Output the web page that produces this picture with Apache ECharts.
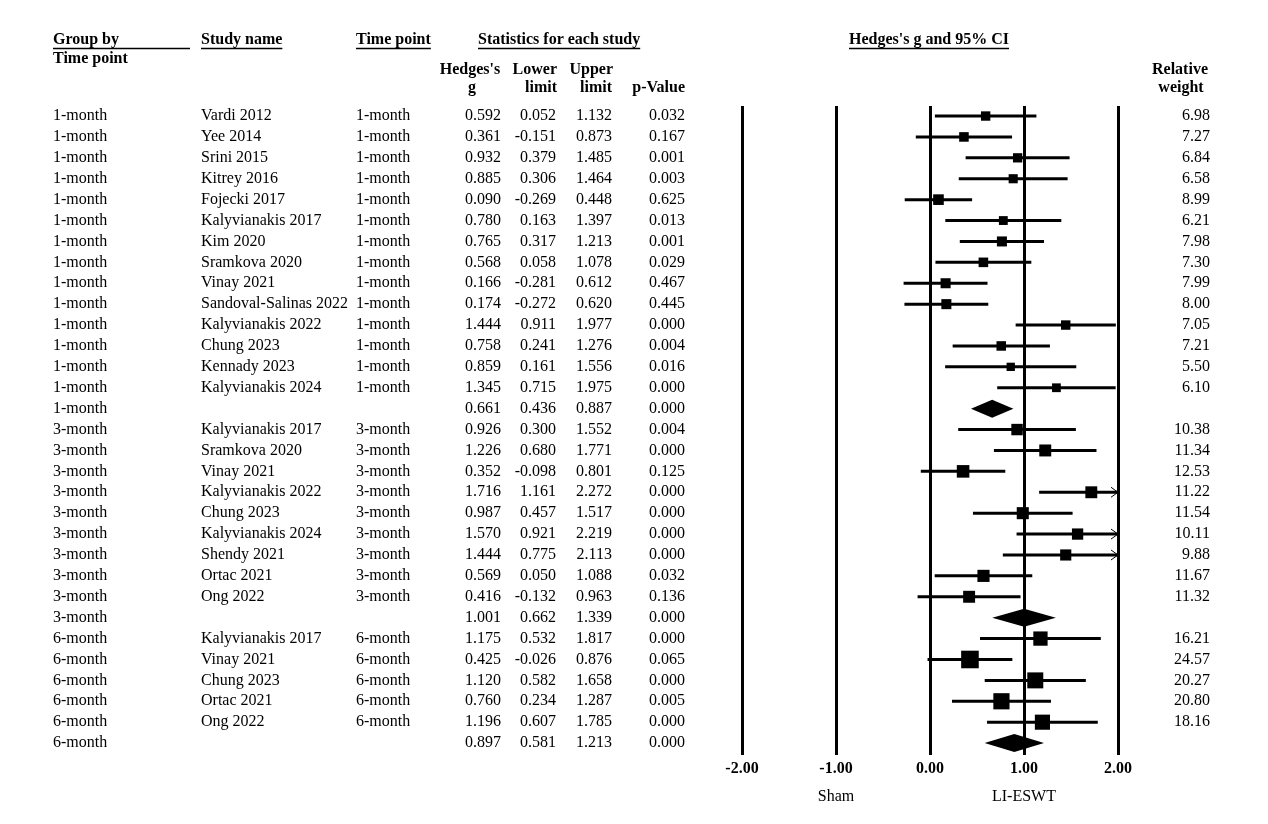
<!DOCTYPE html>
<html>
<head>
<meta charset="utf-8">
<title>Hedges's g forest plot</title>
<script src="https://cdn.jsdelivr.net/npm/echarts@6.0.0/dist/echarts.min.js"></script>
<style>
html,body{margin:0;padding:0;background:#fff;}
#chart_container{width:1268px;height:824px;}
</style>
</head>
<body>
<div id="chart_container"></div>
<script>
var FONT = '"Liberation Serif", "Times New Roman", serif';

// table rows (empty study name = subgroup summary)
var timeGroup = [
	'1-month','1-month','1-month','1-month','1-month','1-month','1-month','1-month','1-month','1-month','1-month','1-month','1-month','1-month','1-month',
	'3-month','3-month','3-month','3-month','3-month','3-month','3-month','3-month','3-month','3-month',
	'6-month','6-month','6-month','6-month','6-month','6-month'
];
var studyNames = [
	'Vardi 2012','Yee 2014','Srini 2015','Kitrey 2016','Fojecki 2017','Kalyvianakis 2017','Kim 2020','Sramkova 2020','Vinay 2021','Sandoval-Salinas 2022','Kalyvianakis 2022','Chung 2023','Kennady 2023','Kalyvianakis 2024','',
	'Kalyvianakis 2017','Sramkova 2020','Vinay 2021','Kalyvianakis 2022','Chung 2023','Kalyvianakis 2024','Shendy 2021','Ortac 2021','Ong 2022','',
	'Kalyvianakis 2017','Vinay 2021','Chung 2023','Ortac 2021','Ong 2022',''
];
var timePoint = [
	'1-month','1-month','1-month','1-month','1-month','1-month','1-month','1-month','1-month','1-month','1-month','1-month','1-month','1-month','',
	'3-month','3-month','3-month','3-month','3-month','3-month','3-month','3-month','3-month','',
	'6-month','6-month','6-month','6-month','6-month',''
];
var hedgesG = [
	0.592,0.361,0.932,0.885,0.090,0.780,0.765,0.568,0.166,0.174,1.444,0.758,0.859,1.345,0.661,
	0.926,1.226,0.352,1.716,0.987,1.570,1.444,0.569,0.416,1.001,
	1.175,0.425,1.120,0.760,1.196,0.897
];
var lowerLimit = [
	0.052,-0.151,0.379,0.306,-0.269,0.163,0.317,0.058,-0.281,-0.272,0.911,0.241,0.161,0.715,0.436,
	0.300,0.680,-0.098,1.161,0.457,0.921,0.775,0.050,-0.132,0.662,
	0.532,-0.026,0.582,0.234,0.607,0.581
];
var upperLimit = [
	1.132,0.873,1.485,1.464,0.448,1.397,1.213,1.078,0.612,0.620,1.977,1.276,1.556,1.975,0.887,
	1.552,1.771,0.801,2.272,1.517,2.219,2.113,1.088,0.963,1.339,
	1.817,0.876,1.658,1.287,1.785,1.213
];
var pValue = [
	0.032,0.167,0.001,0.003,0.625,0.013,0.001,0.029,0.467,0.445,0.000,0.004,0.016,0.000,0.000,
	0.004,0.000,0.125,0.000,0.000,0.000,0.000,0.032,0.136,0.000,
	0.000,0.065,0.000,0.005,0.000,0.000
];
var relWeight = [
	6.98,7.27,6.84,6.58,8.99,6.21,7.98,7.30,7.99,8.00,7.05,7.21,5.50,6.10,null,
	10.38,11.34,12.53,11.22,11.54,10.11,9.88,11.67,11.32,null,
	16.21,24.57,20.27,20.80,18.16,null
];

var xMin = -2, xMax = 2;
var sideLabels = ['Sham', 'LI-ESWT'];
var sideAt = [-1, 1];

function font(size, bold) {
	return (bold ? 'bold ' : '') + size + 'px ' + FONT;
}
var measureCtx = document.createElement('canvas').getContext('2d');
function textWidth(t, bold) {
	measureCtx.font = font(16, bold);
	return measureCtx.measureText(t).width;
}
function txtStyle(text, x, y, align, bold) {
	return {
		text: text, x: x, y: y, font: font(16, bold), fill: '#000',
		align: align, verticalAlign: 'middle',
		textAlign: align, textVerticalAlign: 'middle'
	};
}

// split rows into studies and subgroup summaries
var studyData = [], summaryData = [], rowData = [];
for (var i = 0; i < hedgesG.length; i++) {
	rowData.push([i]);
	if (studyNames[i] === '') {
		summaryData.push([i, hedgesG[i], lowerLimit[i], upperLimit[i]]);
	} else {
		studyData.push([i, hedgesG[i], lowerLimit[i], upperLimit[i], relWeight[i]]);
	}
}

function renderStudy(params, api) {
	var y = api.coord([0, api.value(0)])[1];
	var g = api.value(1), lo = api.value(2), hi = api.value(3), w = api.value(4);
	var xl = api.coord([Math.max(lo, xMin), 0])[0];
	var xh = api.coord([Math.min(hi, xMax), 0])[0];
	var xg = api.coord([g, 0])[0];
	var s = 3.55 * Math.sqrt(w);
	var kids = [
		{type: 'line', shape: {x1: xl, y1: y, x2: xh, y2: y}, style: {stroke: '#000', lineWidth: 3}},
		{type: 'rect', shape: {x: xg - s / 2, y: y - s / 2, width: s, height: s}, style: {fill: '#000'}}
	];
	if (hi > xMax) {
		kids.push({type: 'polyline', shape: {points: [[xh - 7, y - 5], [xh, y], [xh - 7, y + 5]]},
			style: {stroke: '#000', fill: null, lineWidth: 1}});
	}
	return {type: 'group', children: kids};
}

function renderSummary(params, api) {
	var y = api.coord([0, api.value(0)])[1];
	var xg = api.coord([api.value(1), 0])[0];
	var xl = api.coord([api.value(2), 0])[0];
	var xh = api.coord([api.value(3), 0])[0];
	return {type: 'polygon', shape: {points: [[xl, y], [xg, y - 9], [xh, y], [xg, y + 9]]}, style: {fill: '#000'}};
}

function renderRow(params, api) {
	var i = api.value(0);
	var y = api.coord([0, i])[1];
	var kids = [
		{type: 'text', style: txtStyle(timeGroup[i], 53, y, 'left')},
		{type: 'text', style: txtStyle(studyNames[i], 201, y, 'left')},
		{type: 'text', style: txtStyle(timePoint[i], 356, y, 'left')},
		{type: 'text', style: txtStyle(hedgesG[i].toFixed(3), 501, y, 'right')},
		{type: 'text', style: txtStyle(lowerLimit[i].toFixed(3), 556, y, 'right')},
		{type: 'text', style: txtStyle(upperLimit[i].toFixed(3), 612, y, 'right')},
		{type: 'text', style: txtStyle(pValue[i].toFixed(3), 685, y, 'right')}
	];
	if (relWeight[i] != null) {
		kids.push({type: 'text', style: txtStyle(relWeight[i].toFixed(2), 1210, y, 'right')});
	}
	return {type: 'group', children: kids};
}

function renderSide(params, api) {
	var x = api.coord([api.value(0), 0])[0];
	return {type: 'text', style: txtStyle(sideLabels[params.dataIndex], x, 797, 'center')};
}

// header texts and underlines
var headers = [
	['Group by', 53, 40, 'left', 137],
	['Time point', 53, 59, 'left', 0],
	['Study name', 201, 40, 'left', -1],
	['Time point', 356, 40, 'left', -1],
	['Statistics for each study', 478, 40, 'left', -1],
	["Hedges's g and 95% CI", 849, 40, 'left', -1],
	["Hedges's", 470, 70, 'center', 0],
	['g', 472, 88, 'center', 0],
	['Lower', 557, 70, 'right', 0],
	['limit', 557, 88, 'right', 0],
	['Upper', 613, 70, 'right', 0],
	['limit', 612, 88, 'right', 0],
	['p-Value', 685, 88, 'right', 0],
	['Relative', 1180, 70, 'center', 0],
	['weight', 1181, 88, 'center', 0]
];
var graphics = [];
headers.forEach(function (h) {
	graphics.push({type: 'text', silent: true, style: txtStyle(h[0], h[1], h[2], h[3], true)});
	if (h[4] !== 0) {
		var len = h[4] > 0 ? h[4] : textWidth(h[0], true);
		graphics.push({type: 'line', silent: true,
			shape: {x1: h[1], y1: 48.5, x2: h[1] + len, y2: 48.5},
			style: {stroke: '#000', lineWidth: 1.3}});
	}
});

var chart = echarts.init(document.getElementById('chart_container'));
var option = {
	backgroundColor: '#fff',
	animation: false,
	graphic: graphics,
	grid: {left: 742, right: 150, top: 106, bottom: 69},
	xAxis: {
		type: 'value', min: xMin, max: xMax, interval: 1,
		axisLine: {show: false},
		axisTick: {show: false},
		axisLabel: {
			margin: 6, color: '#000', fontFamily: FONT, fontSize: 16, fontWeight: 'bold',
			formatter: function (v) { return v.toFixed(2); }
		},
		splitLine: {show: true, showMinLine: true, showMaxLine: true, lineStyle: {color: '#000', width: 3}}
	},
	yAxis: {
		type: 'value', min: -0.48, max: 30.57, inverse: true, show: false,
		splitLine: {show: false}
	},
	series: [
		{type: 'custom', name: 'studies', renderItem: renderStudy, data: studyData,
			encode: {x: [1, 2, 3], y: 0}, clip: false, silent: true, z: 3},
		{type: 'custom', name: 'summary', renderItem: renderSummary, data: summaryData,
			encode: {x: [1, 2, 3], y: 0}, clip: false, silent: true, z: 3},
		{type: 'custom', name: 'table', renderItem: renderRow, data: rowData,
			encode: {y: 0}, clip: false, silent: true, z: 4},
		{type: 'custom', name: 'sides', renderItem: renderSide,
			data: sideAt.map(function (v) { return [v]; }),
			encode: {x: 0}, clip: false, silent: true, z: 4}
	]
};
chart.setOption(option);
</script>
</body>
</html>
